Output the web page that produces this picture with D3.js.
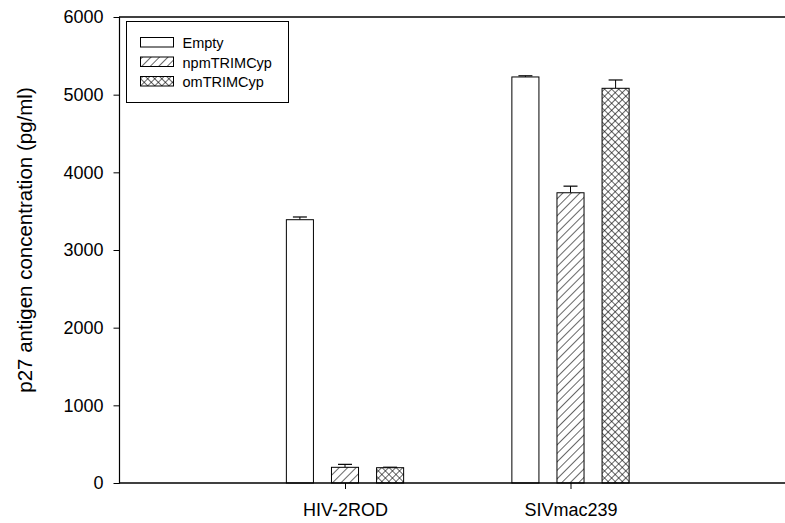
<!DOCTYPE html>
<html>
<head>
<meta charset="utf-8">
<script src="https://cdn.jsdelivr.net/npm/d3@7"></script>
<style>
  body { margin: 0; background: #fff; }
  text { font-family: "Liberation Sans", Arial, sans-serif; }
</style>
</head>
<body>
<div id="chart"></div>
<script>
// chart data
var viruses = ["HIV-2ROD", "SIVmac239"];
var constructs = ["Empty", "npmTRIMCyp", "omTRIMCyp"];
var means = [[3390, 202, 197], [5228, 3737, 5082]];
var errors = [[35, 38, 6], [15, 85, 107]];
var yTicks = [0, 1000, 2000, 3000, 4000, 5000, 6000];

var w = 785, h = 523;
var svg = d3.select("#chart").append("svg")
  .attr("width", w).attr("height", h);

// patterns for the hatched bars
var defs = svg.append("defs");
var p1 = defs.append("pattern").attr("id", "diag")
  .attr("patternUnits", "userSpaceOnUse").attr("width", 6).attr("height", 6)
  .attr("patternTransform", "rotate(45)");
p1.append("rect").attr("width", 6).attr("height", 6).attr("fill", "#fff");
p1.append("line").attr("x1", 0).attr("y1", 0).attr("x2", 0).attr("y2", 6)
  .attr("stroke", "#000").attr("stroke-width", 1.2);
var p2 = defs.append("pattern").attr("id", "cross")
  .attr("patternUnits", "userSpaceOnUse").attr("width", 5).attr("height", 5)
  .attr("patternTransform", "rotate(45)");
p2.append("rect").attr("width", 5).attr("height", 5).attr("fill", "#fff");
p2.append("line").attr("x1", 0).attr("y1", 0).attr("x2", 0).attr("y2", 5)
  .attr("stroke", "#000").attr("stroke-width", 1.2);
p2.append("line").attr("x1", 0).attr("y1", 0).attr("x2", 5).attr("y2", 0)
  .attr("stroke", "#000").attr("stroke-width", 1.2);
var fills = ["#fff", "url(#diag)", "url(#cross)"];

// scales: categories sit at 1 and 2 on a 0..3 axis
var xScale = d3.scaleLinear().domain([0, 3]).range([119.5, 796]);
var yScale = d3.scaleLinear().domain([0, 6000]).range([483, 17]);
var pitch = 0.2, barW = 0.12;

// bars + error bars
viruses.forEach(function(v, i) {
  constructs.forEach(function(c, j) {
    var cx = xScale(i + 1 + (j - 1) * pitch);
    var bw = xScale(barW) - xScale(0);
    var top = yScale(means[i][j]);
    var etop = yScale(means[i][j] + errors[i][j]);
    svg.append("line")
      .attr("x1", cx).attr("x2", cx).attr("y1", top).attr("y2", etop)
      .attr("stroke", "#000").attr("stroke-width", 1);
    svg.append("line")
      .attr("x1", cx - 7).attr("x2", cx + 7).attr("y1", etop).attr("y2", etop)
      .attr("stroke", "#000").attr("stroke-width", 1.2);
    svg.append("rect")
      .attr("x", cx - bw / 2).attr("y", top)
      .attr("width", bw).attr("height", yScale(0) - top)
      .attr("fill", fills[j]).attr("stroke", "#000").attr("stroke-width", 1);
  });
});

// axes
var yAxis = d3.axisLeft(yScale).tickValues(yTicks).tickSize(6).tickPadding(10)
  .tickFormat(d3.format("d"));
var gy = svg.append("g").attr("transform", "translate(119.5,0)").call(yAxis);
gy.select(".domain").remove();
gy.selectAll("text").attr("font-size", 18).attr("font-family", "Liberation Sans, Arial, sans-serif");
gy.selectAll("line").attr("stroke", "#000");

var xAxis = d3.axisBottom(xScale).tickValues([1, 2]).tickSize(6).tickPadding(14)
  .tickFormat(function(d) { return viruses[d - 1]; });
var gx = svg.append("g").attr("transform", "translate(0,483)").call(xAxis);
gx.select(".domain").remove();
gx.selectAll("text").attr("font-size", 18).attr("font-family", "Liberation Sans, Arial, sans-serif");
gx.selectAll("line").attr("stroke", "#000");

svg.append("line").attr("x1", 119.5).attr("x2", 119.5).attr("y1", 17).attr("y2", 483.5)
  .attr("stroke", "#000").attr("stroke-width", 1.2);
svg.append("line").attr("x1", 119).attr("x2", w).attr("y1", 483).attr("y2", 483)
  .attr("stroke", "#000").attr("stroke-width", 1.5);
svg.append("line").attr("x1", 119).attr("x2", w).attr("y1", 17).attr("y2", 17)
  .attr("stroke", "#000").attr("stroke-width", 1.5);

// y label
svg.append("text")
  .attr("transform", "translate(32,240) rotate(-90)")
  .attr("text-anchor", "middle").attr("font-size", 20.5)
  .text("p27 antigen concentration (pg/ml)");

// legend
var lg = svg.append("g").attr("transform", "translate(126.5,21.5)");
lg.append("rect").attr("width", 162).attr("height", 81)
  .attr("fill", "#fff").attr("stroke", "#000").attr("stroke-width", 1);
constructs.forEach(function(c, j) {
  lg.append("rect").attr("x", 14).attr("y", 16 + j * 19.5)
    .attr("width", 33).attr("height", 9.5)
    .attr("fill", fills[j]).attr("stroke", "#000").attr("stroke-width", 1);
  lg.append("text").attr("x", 56).attr("y", 26.5 + j * 19.5)
    .attr("font-size", 14.5).text(c);
});
</script>
</body>
</html>
